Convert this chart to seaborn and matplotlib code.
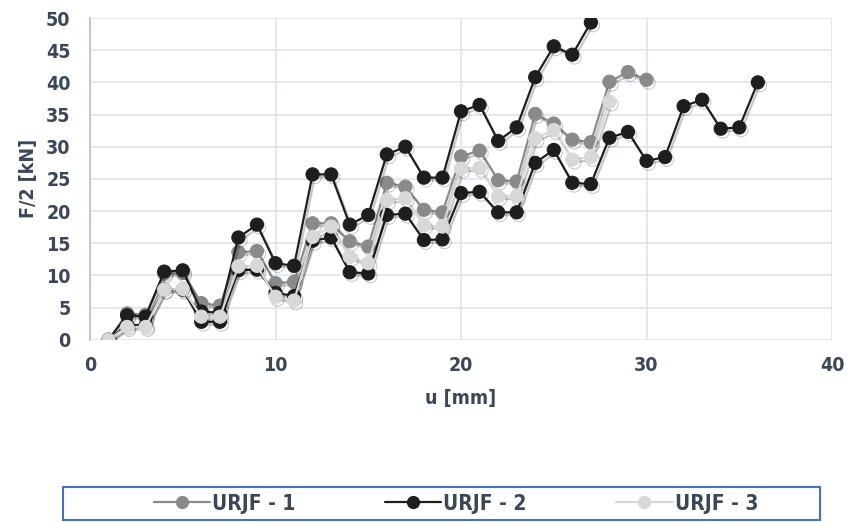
import numpy as np
import pandas as pd
import matplotlib
matplotlib.use("Agg")
import matplotlib.pyplot as plt
import matplotlib.patheffects as pe
from matplotlib.patches import Rectangle
from matplotlib.lines import Line2D
import seaborn as sns

# displacement steps u [mm]
u_1 = list(range(1, 31))
u_2 = list(range(1, 37))
u_2b = list(range(1, 28))
u_3 = list(range(1, 29))

# F/2 [kN]
f_1 = [0, 4.1, 3.9, 10.3, 10.4, 5.7, 5.3, 13.6, 13.8, 8.8, 9.0, 18.1, 18.1, 15.3, 14.5,
       24.4, 23.8, 20.2, 19.8, 28.5, 29.4, 24.8, 24.6, 35.1, 33.6, 31.1, 30.7, 40.1, 41.6, 40.4]
f_2 = [0, 2.3, 2.3, 7.8, 7.8, 2.8, 2.8, 10.8, 10.9, 7.3, 6.8, 15.4, 15.9, 10.5, 10.3,
       19.4, 19.6, 15.5, 15.6, 22.8, 23.0, 19.8, 19.8, 27.5, 29.5, 24.4, 24.2, 31.4, 32.3,
       27.8, 28.4, 36.3, 37.3, 32.8, 33.0, 40.0]
f_2b = [0, 3.8, 3.6, 10.6, 10.8, 4.4, 4.2, 15.9, 17.9, 11.9, 11.5, 25.7, 25.7, 17.9, 19.4,
        28.8, 30.0, 25.2, 25.2, 35.5, 36.5, 30.9, 33.0, 40.8, 45.6, 44.3, 49.3]
f_3 = [0, 2.0, 2.0, 7.8, 7.9, 3.6, 3.6, 11.4, 11.5, 6.7, 6.1, 16.0, 17.6, 12.9, 11.9,
       21.7, 22.0, 17.8, 17.6, 26.6, 26.7, 22.3, 22.3, 31.3, 32.6, 28.0, 28.4, 37.0]

labels = ["URJF - 1", "URJF - 2", "URJF - 3"]
colors = ["#8a8a8a", "#1e1e1e", "#d8d8d8"]

sns.set_style("whitegrid")
plt.rcParams['font.family'] = ['DejaVu Sans']
plt.rcParams['font.stretch'] = 'condensed'
txt_col = "#3b4657"

fig = plt.figure(figsize=(8.49, 5.22), dpi=100)
ax = fig.add_axes([0.106, 0.349, 0.874, 0.6165])

shadow = [pe.SimpleLineShadow(offset=(1.5, -2), alpha=0.22, shadow_color="black"), pe.Normal()]

series = [
    (u_1, f_1, colors[0], labels[0]),
    (u_2b, f_2b, colors[1], "_nolegend_"),
    (u_2, f_2, colors[1], labels[1]),
    (u_3, f_3, colors[2], labels[2]),
]
for u, f, c, lab in series:
    df = pd.DataFrame({"u": u, "F": f})
    sns.lineplot(data=df, x="u", y="F", ax=ax, color=c, marker="o", markersize=9.5,
                 markeredgecolor=c, linewidth=1.6, label=lab, legend=False,
                 path_effects=shadow)

ax.set_xlim(0, 40)
ax.set_ylim(0, 50)
ax.set_xticks(np.arange(0, 41, 10))
ax.set_yticks(np.arange(0, 51, 5))
ax.grid(True, color="#dfe5ee", linewidth=1.2)
for s in ["top", "right", "bottom"]:
    ax.spines[s].set_visible(False)
ax.spines["left"].set_color("#b7c3d5")
ax.spines["left"].set_linewidth(1.3)
ax.tick_params(axis="both", length=0, labelsize=14, labelcolor=txt_col)
ax.tick_params(axis="x", pad=12)
ax.tick_params(axis="y", pad=14)
for t in ax.get_xticklabels() + ax.get_yticklabels():
    t.set_fontweight("bold")
ax.set_xlabel("u [mm]", fontsize=14, fontweight="bold", color=txt_col, labelpad=10)
ax.set_ylabel("F/2 [kN]", fontsize=14, fontweight="bold", color=txt_col, labelpad=6)

# legend
handles = [Line2D([0], [0], color=c, marker="o", markersize=8.5, markeredgecolor=c,
                  linewidth=1.6) for c in colors]
fig.patches.append(Rectangle((0.074, 0.003), 0.892, 0.064, transform=fig.transFigure,
                             fill=False, edgecolor="#4472c4", linewidth=1.5))
leg = fig.legend(handles, labels, loc="center", bbox_to_anchor=(0.537, 0.035), ncol=3,
                 frameon=False, handlelength=2.7, handletextpad=0.1, columnspacing=4.3,
                 prop={"size": 15, "weight": "bold"})
for t in leg.get_texts():
    t.set_color(txt_col)

fig.savefig("out.png", dpi=100)
